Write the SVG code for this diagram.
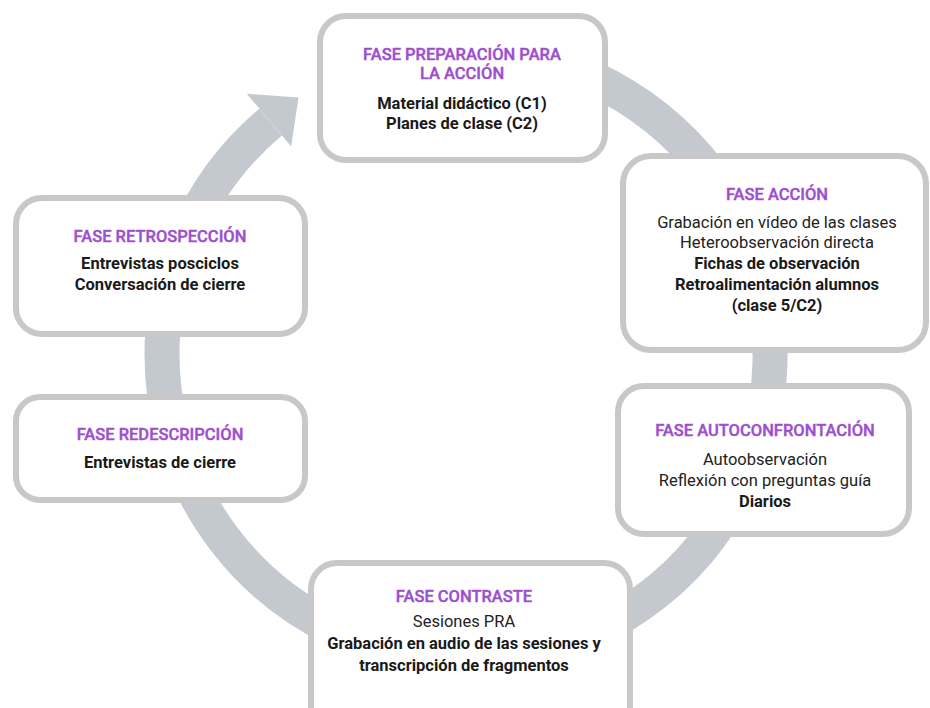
<svg xmlns="http://www.w3.org/2000/svg" width="930" height="708" viewBox="0 0 930 708">
  <style>
    .box { fill: #ffffff; stroke: #c8c8c8; stroke-width: 6; }
    .ring { fill: none; stroke: #c4c8cf; stroke-width: 35; }
    .head { fill: #c4c8cf; }
    text { font-family: Roboto, "Liberation Sans", sans-serif; font-size: 16.5px; text-anchor: middle; fill: #222222; }
    .title { fill: #9d4fcf; stroke: #9d4fcf; stroke-width: 0.4; font-weight: 500; }
    .b { font-weight: 700; fill: #1a1a1a; }
  </style>

  <!-- cycle ring behind the phases -->
  <g id="connectors">
    <path class="ring" d="M 352.1 73.1 A 304 304 0 1 1 270.6 122.1"/>
    <polygon class="head" points="246.8,93.8 291.2,146.6 298.5,97.5"/>
  </g>

  <g id="fase-preparacion">
    <rect class="box" x="320" y="16" width="285" height="144" rx="26"/>
    <text class="title" x="462" y="60">FASE PREPARACIÓN PARA</text>
    <text class="title" x="462" y="79">LA ACCIÓN</text>
    <text class="b" x="462" y="109">Material didáctico (C1)</text>
    <text class="b" x="462" y="129">Planes de clase (C2)</text>
  </g>

  <g id="fase-accion">
    <rect class="box" x="623" y="156" width="303" height="194" rx="28"/>
    <text class="title" x="777" y="200">FASE ACCIÓN</text>
    <text x="777" y="228">Grabación en vídeo de las clases</text>
    <text x="777" y="248">Heteroobservación directa</text>
    <text class="b" x="777" y="269">Fichas de observación</text>
    <text class="b" x="777" y="290">Retroalimentación alumnos</text>
    <text class="b" x="777" y="311">(clase 5/C2)</text>
  </g>

  <g id="fase-autoconfrontacion">
    <rect class="box" x="618" y="386" width="291" height="148" rx="26"/>
    <text class="title" x="765" y="436">FASE AUTOCONFRONTACIÓN</text>
    <text x="765" y="465">Autoobservación</text>
    <text x="765" y="486">Reflexión con preguntas guía</text>
    <text class="b" x="765" y="507">Diarios</text>
  </g>

  <g id="fase-contraste">
    <rect class="box" x="311" y="563" width="319" height="170" rx="26"/>
    <text class="title" x="464" y="602">FASE CONTRASTE</text>
    <text x="464" y="627">Sesiones PRA</text>
    <text class="b" x="464" y="649">Grabación en audio de las sesiones y</text>
    <text class="b" x="464" y="671">transcripción de fragmentos</text>
  </g>

  <g id="fase-redescripcion">
    <rect class="box" x="16" y="397" width="289" height="103" rx="24"/>
    <text class="title" x="160" y="440">FASE REDESCRIPCIÓN</text>
    <text class="b" x="160" y="468">Entrevistas de cierre</text>
  </g>

  <g id="fase-retrospeccion">
    <rect class="box" x="16" y="198" width="289" height="136" rx="26"/>
    <text class="title" x="160" y="242">FASE RETROSPECCIÓN</text>
    <text class="b" x="160" y="269">Entrevistas posciclos</text>
    <text class="b" x="160" y="290">Conversación de cierre</text>
  </g>
</svg>
